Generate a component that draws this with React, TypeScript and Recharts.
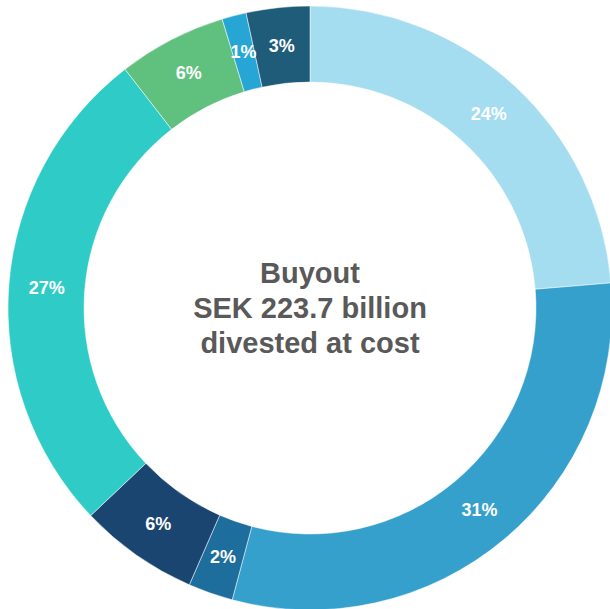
import React from 'react';
import { PieChart, Pie, Cell } from 'recharts';

// slices clockwise from 12 o'clock (shares in %)
const shares = [23.7, 30.5, 2.4, 6.4, 26.6, 5.8, 1.3, 3.4];
const shareLabels = ['24%', '31%', '2%', '6%', '27%', '6%', '1%', '3%'];
const sliceColors = ['#a4dcf0', '#35a0cc', '#1d6e9c', '#1b4571', '#2fcbc7', '#60c17e', '#27a6d6', '#1e5c7a'];
const centerLines = ['Buyout', 'SEK 223.7 billion', 'divested at cost'];

const data = shares.map((value, i) => ({ name: `s${i}`, value, label: shareLabels[i] }));

const RAD = Math.PI / 180;

const renderLabel = (props: any) => {
  const { cx, cy, midAngle, innerRadius, outerRadius, payload } = props;
  const r = (innerRadius + outerRadius) / 2;
  const x = cx + r * Math.cos(-midAngle * RAD);
  const y = cy + r * Math.sin(-midAngle * RAD);
  return (
    <text
      x={x}
      y={y}
      fill="#ffffff"
      textAnchor="middle"
      dominantBaseline="central"
      fontFamily="'Liberation Sans', Arial, sans-serif"
      fontWeight="bold"
      fontSize={18}
    >
      {payload.label}
    </text>
  );
};

export default function App() {
  return (
    <div style={{ position: 'absolute', left: 0, top: 0, width: 610, height: 609 }}>
      <PieChart width={610} height={609} margin={{ top: 0, right: 0, bottom: 0, left: 0 }}>
        <Pie
          data={data}
          dataKey="value"
          cx={310}
          cy={308}
          innerRadius={226}
          outerRadius={302}
          startAngle={90}
          endAngle={-270}
          stroke="#ffffff"
          strokeWidth={0.5}
          label={renderLabel}
          labelLine={false}
          isAnimationActive={false}
        >
          {data.map((d, i) => (
            <Cell key={d.name} fill={sliceColors[i]} />
          ))}
        </Pie>
        <text
          x={310}
          y={273}
          textAnchor="middle"
          fill="#595959"
          fontFamily="'Liberation Sans', Arial, sans-serif"
          fontWeight="bold"
          fontSize={29}
        >
          {centerLines.map((line, i) => (
            <tspan key={line} x={310} dy={i === 0 ? 0 : 35} dominantBaseline="central">
              {line}
            </tspan>
          ))}
        </text>
      </PieChart>
    </div>
  );
}
